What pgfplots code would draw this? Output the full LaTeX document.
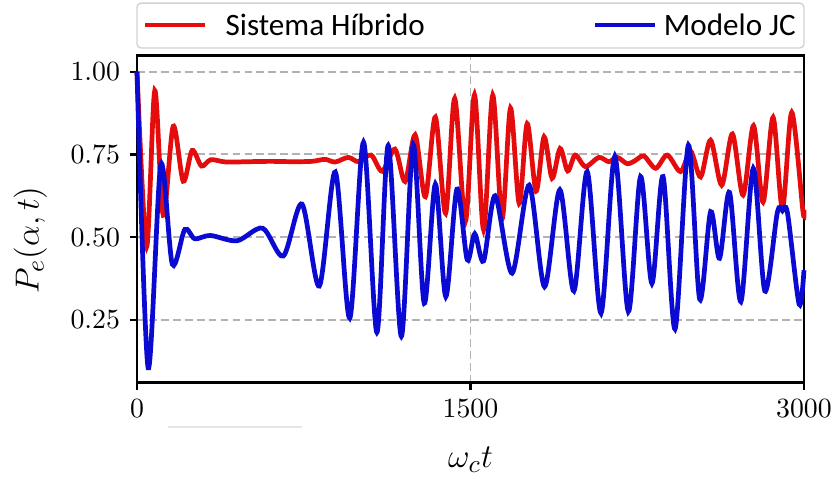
\documentclass[border=0pt]{standalone}
\usepackage{pgfplots}
\pgfplotsset{compat=1.18}
\usepackage{fontspec}
\newfontfamily\legfont{Carlito}
\definecolor{myred}{RGB}{228,12,12}
\definecolor{myblue}{RGB}{10,10,210}
\begin{document}
\begin{tikzpicture}
\begin{axis}[
  scale only axis, width=240.1pt, height=117.9pt,
  xmin=0, xmax=3000, ymin=0.06, ymax=1.05,
  xtick={0,1500,3000}, ytick={0.25,0.5,0.75,1.0},
  xticklabel style={/pgf/number format/1000 sep={}},
  yticklabel style={/pgf/number format/.cd, fixed, fixed zerofill, precision=2},
  tick align=outside, tick pos=left,
  major tick length=2.6pt,
  every tick/.style={black, line width=0.8pt},
  axis line style={line width=1pt},
  grid=major,
  major grid style={gray!60, line width=0.7pt, dash pattern=on 2.8pt off 1.5pt},
  clip=false,
  xlabel={$\omega_c t$}, ylabel={$P_e(\alpha,t)$},
  xlabel style={at={(axis description cs:0.5,-0.236)}, anchor=center, font=\fontsize{12.5}{14}\selectfont},
  ylabel style={at={(axis description cs:-0.16,0.436)}, anchor=center, font=\fontsize{12.5}{14}\selectfont},
]
\addplot[myred, line width=1.7pt, smooth] coordinates {
(0,1.00) (43,0.47) (80,0.943) (118,0.566) (163,0.835) (208,0.669) (248,0.762) (290,0.715) (332,0.734) (400,0.727) (500,0.728) (600,0.729) (700,0.728) (786,0.729) (846,0.735) (891,0.727) (950,0.741) (996,0.728) (1053,0.748) (1103,0.699) (1160,0.766) (1206,0.668) (1251,0.809) (1297,0.622) (1342,0.863) (1388,0.572) (1429,0.919) (1477,0.547) (1518,0.93) (1559,0.522) (1600,0.929) (1642,0.555) (1680,0.89) (1719,0.602) (1755,0.843) (1795,0.639) (1831,0.803) (1867,0.678) (1903,0.768) (1937,0.700) (1971,0.748) (2017,0.713) (2077,0.741) (2122,0.728) (2160,0.741) (2205,0.722) (2240,0.731) (2280,0.745) (2333,0.708) (2385,0.748) (2445,0.698) (2490,0.760) (2535,0.682) (2580,0.793) (2630,0.657) (2678,0.812) (2726,0.627) (2773,0.837) (2816,0.606) (2861,0.862) (2903,0.586) (2945,0.877) (2995,0.580) (3000,0.582)
};
\addplot[myblue, line width=1.7pt, smooth] coordinates {
(0,1.00) (50,0.105) (107,0.719) (159,0.418) (215,0.523) (260,0.495) (330,0.505) (450,0.489) (565,0.527) (658,0.443) (742,0.600) (820,0.352) (892,0.697) (957,0.255) (1019,0.787) (1079,0.212) (1130,0.777) (1189,0.200) (1242,0.780) (1292,0.300) (1342,0.660) (1389,0.320) (1439,0.645) (1485,0.432) (1519,0.510) (1559,0.428) (1611,0.625) (1687,0.391) (1764,0.657) (1833,0.350) (1902,0.643) (1965,0.337) (2025,0.698) (2087,0.270) (2149,0.744) (2210,0.275) (2265,0.683) (2316,0.360) (2366,0.683) (2420,0.222) (2480,0.778) (2531,0.312) (2580,0.577) (2620,0.436) (2665,0.635) (2716,0.305) (2772,0.708) (2824,0.337) (2880,0.574) (2903,0.580) (2926,0.572) (2978,0.297) (3000,0.40)
};
\draw[gray!35, line width=0.5pt, rounded corners=1.5pt, fill=white] (axis description cs:0,1.022) rectangle (axis description cs:1,1.159);
\draw[myred, line width=1.7pt] (axis description cs:0.012,1.092) -- (axis description cs:0.102,1.092);
\node[anchor=west, inner sep=0pt, font=\legfont\fontsize{11.2}{13}\selectfont] at (axis description cs:0.132,1.092) {Sistema Híbrido};
\draw[myblue, line width=1.7pt] (axis description cs:0.687,1.092) -- (axis description cs:0.777,1.092);
\node[anchor=west, inner sep=0pt, font=\legfont\fontsize{11.2}{13}\selectfont] at (axis description cs:0.789,1.092) {Modelo JC};
\draw[gray!20, line width=0.5pt] (axis description cs:0.046,-0.135) -- (axis description cs:0.247,-0.135);
\coordinate (bbSW) at (axis description cs:-0.2054,-0.2937);
\coordinate (bbNE) at (axis description cs:1.0495,1.1685);
\end{axis}
\pgfresetboundingbox
\useasboundingbox (bbSW) rectangle (bbNE);
\end{tikzpicture}
\end{document}
